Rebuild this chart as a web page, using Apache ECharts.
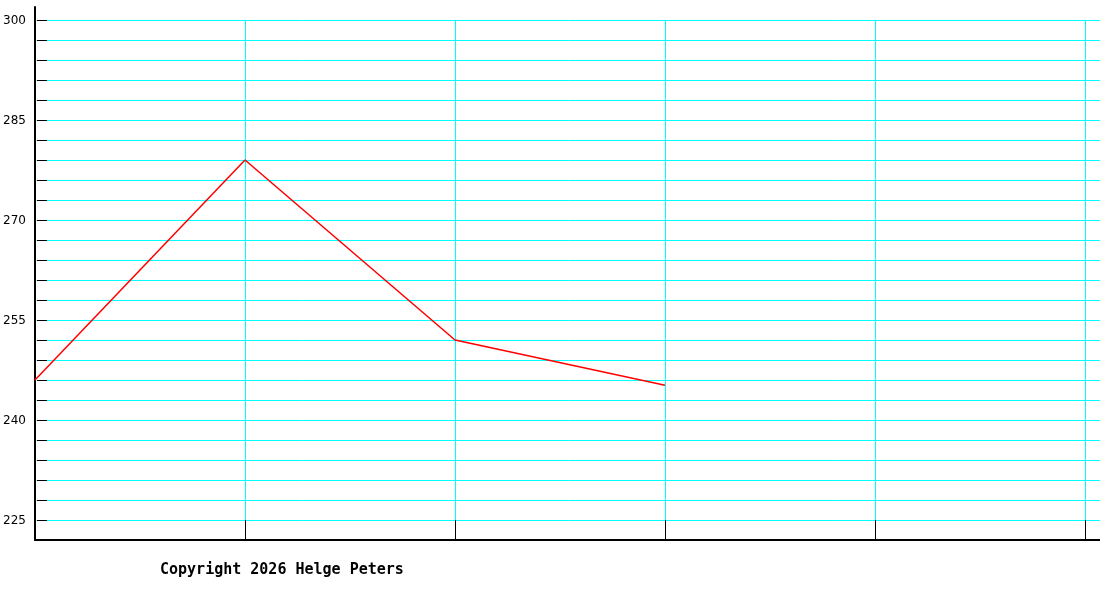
<!DOCTYPE html>
<html>
<head>
<meta charset="utf-8">
<script src="https://cdn.jsdelivr.net/npm/echarts@6/dist/echarts.min.js"></script>
<style>
  html, body { margin: 0; padding: 0; background: #fff; }
  #chart { width: 1100px; height: 600px; }
</style>
</head>
<body>
<div id="chart"></div>
<script>
// data
var xValues = [0, 1, 2, 3];
var yValues = [246, 279, 252, 245.2];
var yLabelValues = [225, 240, 255, 270, 285, 300];
var copyrightText = 'Copyright 2026 Helge Peters';

var chart = echarts.init(document.getElementById('chart'));

var points = xValues.map(function (x, i) { return [x, yValues[i]]; });

var option = {
  backgroundColor: '#ffffff',
  animation: false,
  title: {
    text: copyrightText,
    left: 155,
    top: 558,
    textStyle: {
      fontFamily: 'DejaVu Sans Mono',
      fontSize: 15,
      fontWeight: 'bold',
      color: '#000'
    }
  },
  grid: [
    // data grid, vertical grid lines stop at the last column
    { left: 35, right: 15, top: 20, bottom: 60 },
    // horizontal grid lines, full width
    { left: 35, right: 0, top: 20, bottom: 60 },
    // axis lines only
    { left: 35, right: 0, top: 7, bottom: 60 }
  ],
  xAxis: [
    {
      gridIndex: 0, type: 'value', min: 0, max: 5, interval: 1,
      axisLine: { show: false },
      axisLabel: { show: false },
      axisTick: { show: true, inside: true, length: 20, lineStyle: { color: '#000', width: 1 } },
      splitLine: { show: true, lineStyle: { color: '#00ffff', width: 1 } }
    },
    {
      gridIndex: 1, type: 'value', min: 0, max: 1, show: false
    },
    {
      gridIndex: 2, type: 'value', min: 0, max: 1,
      axisLine: { show: true, onZero: false, lineStyle: { color: '#000', width: 2 } },
      axisTick: { show: false },
      axisLabel: { show: false },
      splitLine: { show: false }
    }
  ],
  yAxis: [
    {
      gridIndex: 0, type: 'value', min: 222, max: 300, show: false
    },
    {
      gridIndex: 1, type: 'value', min: 222, max: 300, interval: 3,
      axisLine: { show: false },
      axisTick: { show: true, inside: true, length: 10, lineStyle: { color: '#000', width: 1 } },
      axisLabel: {
        show: true, margin: 11, color: '#000',
        fontFamily: 'DejaVu Sans', fontSize: 12,
        verticalAlign: 'top', lineHeight: 12, padding: [-5, 0, 0, 0],
        formatter: function (v) {
          return yLabelValues.indexOf(v) >= 0 ? String(v) : '';
        }
      },
      splitLine: { show: true, lineStyle: { color: '#00ffff', width: 1 } }
    },
    {
      gridIndex: 2, type: 'value', min: 0, max: 1,
      axisLine: { show: true, onZero: false, lineStyle: { color: '#000', width: 2 } },
      axisTick: { show: false },
      axisLabel: { show: false },
      splitLine: { show: false }
    }
  ],
  series: [
    {
      type: 'line',
      xAxisIndex: 0,
      yAxisIndex: 0,
      data: points,
      symbol: 'none',
      lineStyle: { color: '#ff0000', width: 1.5 },
      z: 5
    }
  ]
};

chart.setOption(option);
</script>
</body>
</html>
